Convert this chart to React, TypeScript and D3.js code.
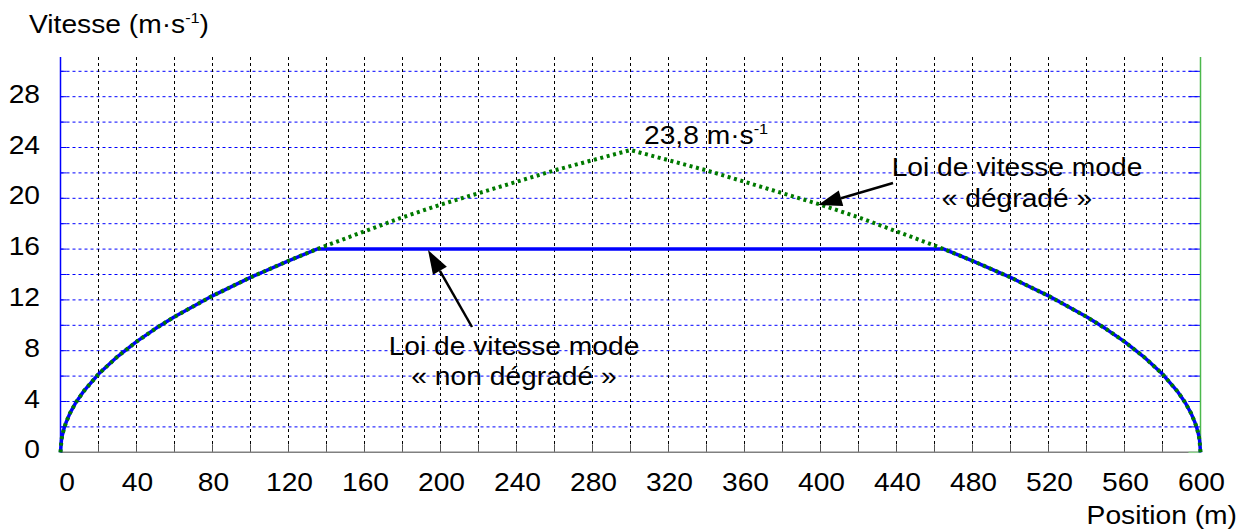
import React from "react";
import * as d3 from "d3";

// Non-degraded speed law (blue, solid)
const blueX = [0, 0.5, 1, 2, 3, 5, 8, 12, 20, 30, 40, 50, 60, 80, 100, 120, 135, 465, 480, 500, 520, 540, 550, 560, 570, 580, 588, 592, 595, 597, 598, 599, 599.5, 600];
const blueV = [0, 0.97, 1.38, 1.95, 2.38, 3.08, 3.9, 4.77, 6.16, 7.54, 8.71, 9.74, 10.67, 12.32, 13.77, 15.08, 16, 16, 15.08, 13.77, 12.32, 10.67, 9.74, 8.71, 7.54, 6.16, 4.77, 3.9, 3.08, 2.38, 1.95, 1.38, 0.97, 0];

// Degraded speed law (green, dotted)
const greenX = [0, 0.5, 1, 2, 3, 5, 8, 12, 20, 30, 40, 50, 60, 80, 100, 120, 135, 160, 180, 200, 220, 240, 260, 280, 300, 320, 340, 360, 380, 400, 420, 440, 465, 480, 500, 520, 540, 550, 560, 570, 580, 588, 592, 595, 597, 598, 599, 599.5, 600];
const greenV = [0, 0.97, 1.38, 1.95, 2.38, 3.08, 3.9, 4.77, 6.16, 7.54, 8.71, 9.74, 10.67, 12.32, 13.77, 15.08, 16, 17.4, 18.5, 19.5, 20.4, 21.3, 22.2, 23.0, 23.8, 23.0, 22.2, 21.3, 20.4, 19.5, 18.5, 17.4, 16, 15.08, 13.77, 12.32, 10.67, 9.74, 8.71, 7.54, 6.16, 4.77, 3.9, 3.08, 2.38, 1.95, 1.38, 0.97, 0];

const xTicks = [0, 40, 80, 120, 160, 200, 240, 280, 320, 360, 400, 440, 480, 520, 560, 600];
const xGrid = d3.range(20, 600, 20);
const yTicks = [0, 4, 8, 12, 16, 20, 24, 28];
const yGrid = d3.range(2, 31, 2);

const FONT = "'Liberation Sans', Arial, sans-serif";
const FS = 26;
const SX = 1.085;

function T(props: { x: number; y: number; anchor?: string; children: React.ReactNode }) {
  const { x, y, anchor = "start", children } = props;
  return (
    <text
      transform={`translate(${x},${y}) scale(${SX},1)`}
      textAnchor={anchor}
      fontSize={FS}
      fill="#000"
    >
      {children}
    </text>
  );
}

export default function App() {
  const x = d3.scaleLinear().domain([0, 600]).range([60.5, 1200.5]);
  const y = d3.scaleLinear().domain([0, 30]).range([452.3, 71.3]);
  const top = 57;
  const bottom = y(0);

  const bluePath = d3
    .line<number>()
    .x((d) => x(blueX[d]))
    .y((d) => y(blueV[d]))(blueX.map((_, i) => i)) as string;
  const greenPath = d3
    .line<number>()
    .x((d) => x(greenX[d]))
    .y((d) => y(greenV[d]))(greenX.map((_, i) => i)) as string;

  const arrow = (x1: number, y1: number, x2: number, y2: number) => {
    const ang = Math.atan2(y2 - y1, x2 - x1);
    const len = 24;
    const w = 8;
    const bx = x2 - len * Math.cos(ang);
    const by = y2 - len * Math.sin(ang);
    const px = -Math.sin(ang) * w;
    const py = Math.cos(ang) * w;
    return (
      <g>
        <line x1={x1} y1={y1} x2={bx} y2={by} stroke="#000" strokeWidth={2.5} />
        <polygon points={`${x2},${y2} ${bx + px},${by + py} ${bx - px},${by - py}`} fill="#000" />
      </g>
    );
  };

  return (
    <svg
      width={1248}
      height={532}
      style={{ position: "absolute", left: 0, top: 0, background: "#fff" }}
      fontFamily={FONT}
    >
      {/* horizontal grid */}
      {yGrid.map((v) => (
        <g key={"h" + v}>
          <line x1={x(0)} x2={x(600)} y1={y(v)} y2={y(v)} stroke="#0000ff" strokeWidth={1} strokeDasharray="3,3" />
          <line x1={x(0)} x2={x(0) + 6} y1={y(v)} y2={y(v)} stroke="#0000ff" strokeWidth={1} />
          <line x1={x(600) - 12} x2={x(600)} y1={y(v)} y2={y(v)} stroke="#0000ff" strokeWidth={1} />
        </g>
      ))}
      {/* vertical grid */}
      {xGrid.map((v) => (
        <g key={"v" + v}>
          <line x1={x(v)} x2={x(v)} y1={top} y2={bottom} stroke="#000" strokeWidth={1} strokeDasharray="3,3" />
          <line x1={x(v)} x2={x(v)} y1={bottom - 8} y2={bottom} stroke="#555" strokeWidth={1} />
        </g>
      ))}
      {/* axes */}
      <line x1={x(0)} x2={x(600)} y1={bottom} y2={bottom} stroke="#808080" strokeWidth={1.5} />
      <line x1={x(600) - 12} x2={x(600)} y1={bottom} y2={bottom} stroke="#8fd08f" strokeWidth={1.5} />
      <line x1={x(0)} x2={x(0)} y1={top} y2={bottom} stroke="#0000ff" strokeWidth={1.5} />
      <line x1={x(600)} x2={x(600)} y1={top} y2={bottom} stroke="#4cb84c" strokeWidth={1.5} />

      {/* curves */}
      <path d={bluePath} fill="none" stroke="#0000ff" strokeWidth={3.5} strokeLinejoin="round" />
      <path d={greenPath} fill="none" stroke="#007a00" strokeWidth={4} strokeDasharray="3,3.6" />

      {/* y tick labels */}
      {yTicks.map((v) => (
        <T key={"yl" + v} x={40} y={y(v) + 6} anchor="end">
          {v}
        </T>
      ))}
      {/* x tick labels */}
      {xTicks.map((v) => (
        <T key={"xl" + v} x={v === 0 ? x(v) + 6.5 : x(v) + 1} y={491} anchor="middle">
          {v}
        </T>
      ))}

      {/* axis titles */}
      <T x={29} y={33}>
        Vitesse (m·s<tspan fontSize={15} dy={-10}>-1</tspan>
        <tspan dy={10}>)</tspan>
      </T>
      <T x={1237} y={524} anchor="end">
        Position (m)
      </T>

      {/* annotations */}
      <T x={644} y={144}>
        23,8 m·s<tspan fontSize={15} dy={-10}>-1</tspan>
      </T>
      <T x={514} y={355} anchor="middle">
        Loi de vitesse mode
      </T>
      <T x={514} y={385} anchor="middle">
        « non dégradé »
      </T>
      <T x={1017} y={176} anchor="middle">
        Loi de vitesse mode
      </T>
      <T x={1017} y={207} anchor="middle">
        « dégradé »
      </T>
      {arrow(472, 327, 428, 250)}
      {arrow(893, 183, 818, 205)}
    </svg>
  );
}
